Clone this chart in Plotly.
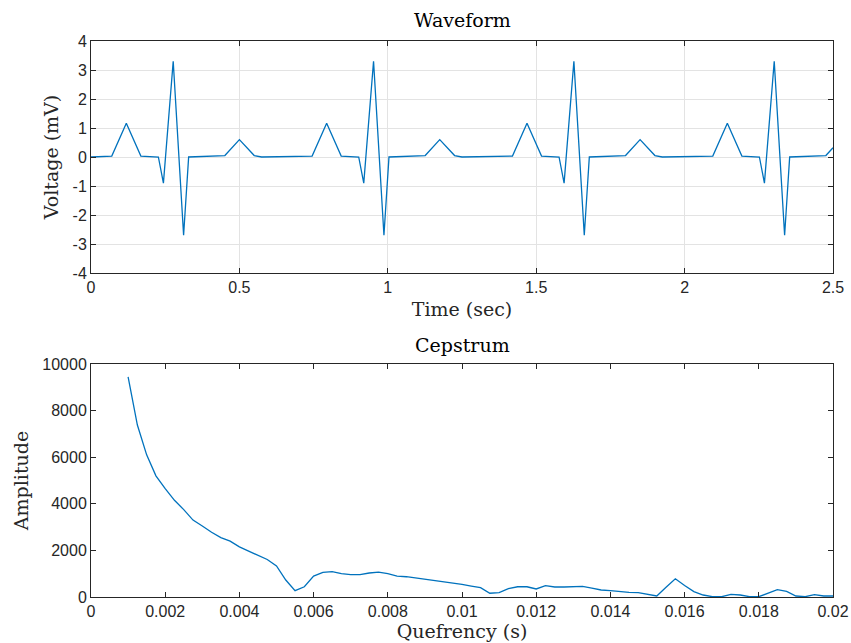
import plotly.graph_objects as go

# ---------------- data ----------------
wave_t = [0.000, 0.070, 0.119, 0.168, 0.227, 0.244, 0.277, 0.312, 0.329, 0.451, 0.500, 0.550, 0.575,
          0.745, 0.794, 0.843, 0.902, 0.919, 0.952, 0.987, 1.004, 1.126, 1.175, 1.225, 1.250,
          1.420, 1.469, 1.518, 1.577, 1.594, 1.627, 1.662, 1.679, 1.801, 1.850, 1.900, 1.925,
          2.095, 2.144, 2.193, 2.252, 2.269, 2.302, 2.337, 2.354, 2.476, 2.500]
wave_v = [0.00, 0.03, 1.16, 0.03, 0.00, -0.90, 3.30, -2.70, 0.00, 0.05, 0.60, 0.05, 0.00,
          0.03, 1.16, 0.03, 0.00, -0.90, 3.30, -2.70, 0.00, 0.05, 0.60, 0.05, 0.00,
          0.03, 1.16, 0.03, 0.00, -0.90, 3.30, -2.70, 0.00, 0.05, 0.60, 0.05, 0.00,
          0.03, 1.16, 0.03, 0.00, -0.90, 3.30, -2.70, 0.00, 0.05, 0.32]

quef = [0.001, 0.00125, 0.0015, 0.00175, 0.002, 0.00225, 0.0025, 0.00275, 0.003, 0.00325,
        0.0035, 0.00375, 0.004, 0.00425, 0.0045, 0.00475, 0.005, 0.00525, 0.0055, 0.00575,
        0.006, 0.00625, 0.0065, 0.00675, 0.007, 0.00725, 0.0075, 0.00775, 0.008, 0.00825,
        0.0085, 0.00875, 0.009, 0.00925, 0.0095, 0.00975, 0.01, 0.01025, 0.0105, 0.01075,
        0.011, 0.01125, 0.0115, 0.01175, 0.012, 0.01225, 0.0125, 0.01275, 0.013, 0.01325,
        0.0135, 0.01375, 0.014, 0.01425, 0.0145, 0.01475, 0.015, 0.01525, 0.0155, 0.01575,
        0.016, 0.01625, 0.0165, 0.01675, 0.017, 0.01725, 0.0175, 0.01775, 0.018, 0.01825,
        0.0185, 0.01875, 0.019, 0.01925, 0.0195, 0.01975, 0.02]
ceps = [9450, 7380, 6100, 5200, 4650, 4150, 3750, 3300, 3050, 2780,
        2550, 2400, 2150, 1960, 1800, 1610, 1330, 730, 270, 440,
        900, 1060, 1090, 1000, 960, 960, 1030, 1070, 1000, 900,
        870, 820, 740, 690, 640, 610, 540, 470, 400, 160,
        190, 360, 440, 440, 345, 485, 430, 430, 440, 460,
        380, 300, 270, 220, 195, 185, 114, 43, 420, 780,
        490, 229, 86, 14, 14, 110, 86, 14, 14, 157,
        315, 243, 43, 14, 100, 43, 43]

wave_xticks = [0, 0.5, 1, 1.5, 2, 2.5]
wave_xticktext = ["0", "0.5", "1", "1.5", "2", "2.5"]
wave_yticks = [-4, -3, -2, -1, 0, 1, 2, 3, 4]
wave_yticktext = ["-4", "-3", "-2", "-1", "0", "1", "2", "3", "4"]
ceps_xticks = [0, 0.002, 0.004, 0.006, 0.008, 0.01, 0.012, 0.014, 0.016, 0.018, 0.02]
ceps_xticktext = ["0", "0.002", "0.004", "0.006", "0.008", "0.01", "0.012", "0.014", "0.016", "0.018", "0.02"]
ceps_yticks = [0, 2000, 4000, 6000, 8000, 10000]
ceps_yticktext = ["0", "2000", "4000", "6000", "8000", "10000"]

# ---------------- figure ----------------
W, H = 851, 643
LINE = "#0072BD"
AX = "#262626"
TICKFONT = dict(family="Liberation Sans, Arial, sans-serif", size=16, color=AX)
SERIF = "DejaVu Serif, Liberation Serif, serif"
LABELFONT = dict(family=SERIF, size=19, color=AX)
TITLEFONT = dict(family=SERIF, size=19, color="black")

fig = go.Figure()
fig.add_trace(go.Scatter(x=wave_t, y=wave_v, mode="lines",
                         line=dict(color=LINE, width=1.3), xaxis="x", yaxis="y",
                         showlegend=False, hoverinfo="skip"))
fig.add_trace(go.Scatter(x=quef, y=ceps, mode="lines",
                         line=dict(color=LINE, width=1.3), xaxis="x2", yaxis="y2",
                         showlegend=False, hoverinfo="skip"))

xd = [91 / W, 833 / W]
y1d = [1 - 273 / H, 1 - 41 / H]
y2d = [1 - 597 / H, 1 - 364 / H]

common = dict(showline=True, linecolor=AX, linewidth=1, mirror="ticks",
              ticks="inside", ticklen=5, tickcolor=AX, tickwidth=1,
              tickfont=TICKFONT, zeroline=False, automargin=False)

fig.update_layout(
    width=W, height=H,
    margin=dict(l=0, r=0, t=0, b=0),
    paper_bgcolor="white", plot_bgcolor="white",
    xaxis=dict(domain=xd, anchor="y", range=[0, 2.5], tickvals=wave_xticks,
               ticktext=wave_xticktext, showgrid=True, gridcolor="#e3e3e3", gridwidth=1,
               title=dict(text="Time (sec)", font=LABELFONT, standoff=7),
               **common),
    yaxis=dict(domain=y1d, anchor="x", range=[-4, 4], tickvals=wave_yticks,
               ticktext=wave_yticktext, showgrid=True, gridcolor="#e3e3e3", gridwidth=1,
               title=dict(text="Voltage (mV)", font=LABELFONT, standoff=8),
               **common),
    xaxis2=dict(domain=xd, anchor="y2", range=[0, 0.02], tickvals=ceps_xticks,
                ticktext=ceps_xticktext, showgrid=False,
                title=dict(text="Quefrency (s)", font=LABELFONT, standoff=3),
                **common),
    yaxis2=dict(domain=y2d, anchor="x2", range=[0, 10000], tickvals=ceps_yticks,
                ticktext=ceps_yticktext, showgrid=False,
                title=dict(text="Amplitude", font=LABELFONT, standoff=8),
                **common),
    annotations=[
        dict(text="Waveform", x=(xd[0] + xd[1]) / 2, y=1 - 20 / H, xref="paper", yref="paper",
             showarrow=False, font=TITLEFONT, xanchor="center", yanchor="middle"),
        dict(text="Cepstrum", x=(xd[0] + xd[1]) / 2, y=1 - 345 / H, xref="paper", yref="paper",
             showarrow=False, font=TITLEFONT, xanchor="center", yanchor="middle"),
    ],
)

fig.write_html(
    "out.html",
    config={"displayModeBar": False},
    post_script="document.body.style.margin='0';document.body.style.overflow='hidden';",
)
